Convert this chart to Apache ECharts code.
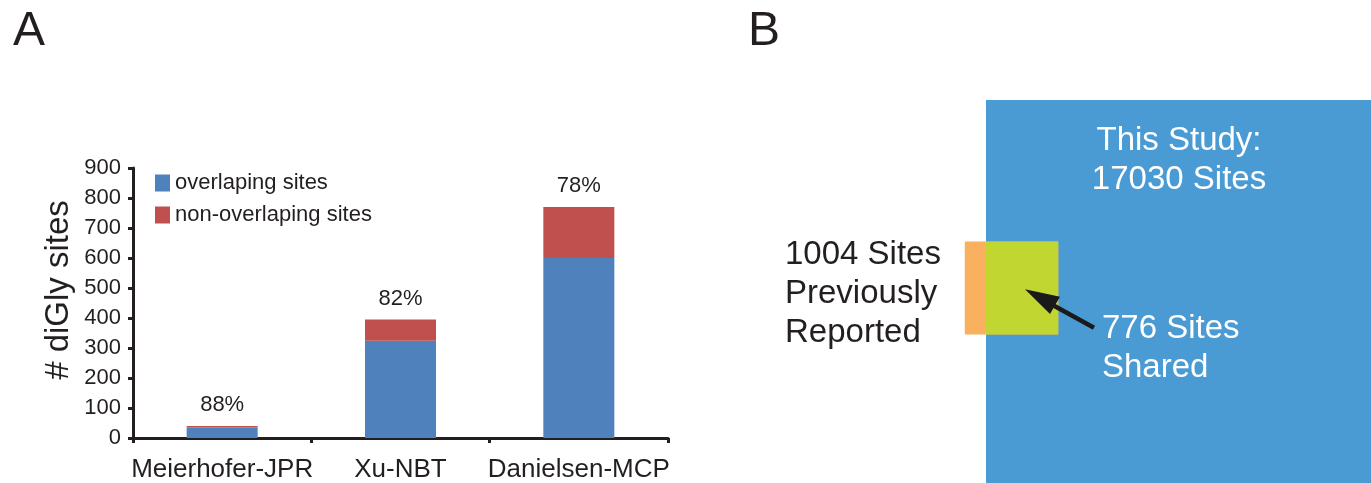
<!DOCTYPE html>
<html>
<head>
<meta charset="utf-8">
<script src="https://cdn.jsdelivr.net/npm/echarts@6/dist/echarts.min.js"></script>
<style>
html,body{margin:0;padding:0;background:#fff;}
#chart{width:1371px;height:483px;}
</style>
</head>
<body>
<div id="chart"></div>
<script>
// ---- Panel A data ----
const categories = ['Meierhofer-JPR', 'Xu-NBT', 'Danielsen-MCP'];
const overlapping = [35, 324, 600];
const nonOverlapping = [5, 71, 170];
const overlapPct = ['88%', '82%', '78%'];
const seriesNames = ['overlaping sites', 'non-overlaping sites'];

// ---- Panel B data ----
const vennNames = ['This Study', 'Previously Reported', 'Shared'];
const vennCounts = [17030, 1004, 776];

// ---- layout / style constants ----
const TXT = '#231F20';
const FONT = '"Liberation Sans", Arial, Helvetica, sans-serif';
const smallTop = 48.2; // vertical offset of the small square (layout)

// area-proportional squares (side = sqrt(count))
const bigSide = Math.sqrt(vennCounts[0]);
const smallSide = Math.sqrt(vennCounts[1]);
const sharedW = smallSide * vennCounts[2] / vennCounts[1];
const vennRects = [
  [0, 0, bigSide, bigSide],
  [sharedW - smallSide, smallTop, sharedW, smallTop + smallSide],
  [0, smallTop, sharedW, smallTop + smallSide]
];
const vennColors = ['#4A9AD3', '#F9B160', '#C2D632'];

const chart = echarts.init(document.getElementById('chart'), null, {renderer: 'canvas'});

chart.setOption({
  animation: false,
  textStyle: {fontFamily: FONT, color: TXT},
  legend: {
    left: 150, top: 167, orient: 'vertical',
    itemWidth: 15, itemHeight: 17, itemGap: 10,
    icon: 'rect',
    data: seriesNames,
    textStyle: {fontSize: 22, color: TXT, fontFamily: FONT}
  },
  grid: [
    {left: 133, top: 168, width: 535, height: 271, containLabel: false},
    {left: 927, top: 100, width: 451.5, height: 391.5, containLabel: false}
  ],
  xAxis: [
    {
      type: 'category', gridIndex: 0, data: categories,
      axisLine: {lineStyle: {color: TXT, width: 3}},
      axisTick: {show: true, length: 5, lineStyle: {color: TXT, width: 3}},
      axisLabel: {fontSize: 26, color: TXT, margin: 19, fontFamily: FONT, interval: 0, hideOverlap: false}
    },
    {type: 'value', gridIndex: 1, min: -20, max: 130.5, show: false}
  ],
  yAxis: [
    {
      type: 'value', gridIndex: 0, min: 0, max: 900, interval: 100,
      name: '# diGly sites', nameLocation: 'middle', nameGap: 58,
      nameTextStyle: {fontSize: 33, color: TXT, fontFamily: FONT, padding: [0, 0, 0, 26]},
      axisLine: {show: true, lineStyle: {color: TXT, width: 3}},
      axisTick: {show: true, length: 5, lineStyle: {color: TXT, width: 3}},
      axisLabel: {fontSize: 22, color: TXT, margin: 12, fontFamily: FONT},
      splitLine: {show: false}
    },
    {type: 'value', gridIndex: 1, min: 0, max: 130.5, inverse: true, show: false}
  ],
  series: [
    {
      name: seriesNames[0], type: 'bar', stack: 'total', xAxisIndex: 0, yAxisIndex: 0,
      barWidth: 71, data: overlapping, itemStyle: {color: '#4F81BD'}
    },
    {
      name: seriesNames[1], type: 'bar', stack: 'total', xAxisIndex: 0, yAxisIndex: 0,
      barWidth: 71, data: nonOverlapping, itemStyle: {color: '#C0504D'},
      label: {
        show: true, position: 'top', distance: 10,
        fontSize: 22, color: TXT, fontFamily: FONT,
        formatter: p => overlapPct[p.dataIndex]
      }
    },
    {
      type: 'custom', xAxisIndex: 1, yAxisIndex: 1, clip: false,
      encode: {x: [0, 2], y: [1, 3]},
      data: vennRects,
      renderItem: function (params, api) {
        const p0 = api.coord([api.value(0), api.value(1)]);
        const p1 = api.coord([api.value(2), api.value(3)]);
        return {
          type: 'rect',
          shape: {
            x: Math.min(p0[0], p1[0]), y: Math.min(p0[1], p1[1]),
            width: Math.abs(p1[0] - p0[0]), height: Math.abs(p1[1] - p0[1])
          },
          style: {fill: vennColors[params.dataIndex]}
        };
      }
    }
  ],
  graphic: [
    {type: 'text', left: 13, top: 8, style: {text: 'A', font: '48px ' + FONT, fill: TXT}},
    {type: 'text', left: 748, top: 8, style: {text: 'B', font: '48px ' + FONT, fill: TXT}},
    {
      type: 'text', x: 1179, y: 160, z: 10,
      style: {
        text: vennNames[0] + ':\n' + vennCounts[0] + ' Sites',
        font: '33px ' + FONT, fill: '#fff', align: 'center', verticalAlign: 'middle', lineHeight: 39
      }
    },
    {
      type: 'text', x: 785, y: 294, z: 10,
      style: {
        text: vennCounts[1] + ' Sites\nPreviously\nReported',
        font: '33px ' + FONT, fill: TXT, align: 'left', verticalAlign: 'middle', lineHeight: 39
      }
    },
    {
      type: 'text', x: 1102, y: 348, z: 10,
      style: {
        text: vennCounts[2] + ' Sites\n' + vennNames[2],
        font: '33px ' + FONT, fill: '#fff', align: 'left', verticalAlign: 'middle', lineHeight: 39
      }
    },
    {
      type: 'line', z: 10,
      shape: {x1: 1094, y1: 327.7, x2: 1050, y2: 303.5},
      style: {stroke: '#1a1a1a', lineWidth: 4.5}
    },
    {
      type: 'polygon', z: 10,
      shape: {points: [[1025, 289.3], [1060, 296.7], [1050, 314]]},
      style: {fill: '#1a1a1a'}
    }
  ]
});
</script>
</body>
</html>
